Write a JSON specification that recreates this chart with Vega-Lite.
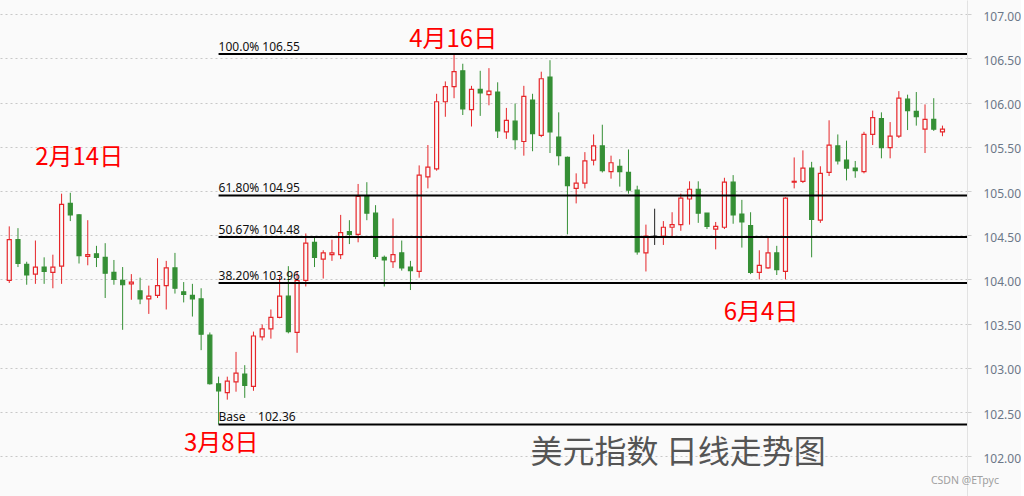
{
  "$schema": "https://vega.github.io/schema/vega-lite/v6.json",
  "width": 967,
  "height": 496,
  "padding": 0,
  "background": "#fafafa",
  "config": {"view": {"stroke": null}, "font": "Noto Sans"},
  "datasets": {
    "candles": [
      {"d":"2024-02-05","i":0,"o":103.99,"h":104.60,"l":103.96,"c":104.45},
      {"d":"2024-02-06","i":1,"o":104.45,"h":104.58,"l":104.14,"c":104.18},
      {"d":"2024-02-07","i":2,"o":104.17,"h":104.20,"l":103.94,"c":104.05},
      {"d":"2024-02-08","i":3,"o":104.06,"h":104.44,"l":103.95,"c":104.14},
      {"d":"2024-02-09","i":4,"o":104.14,"h":104.25,"l":103.95,"c":104.09},
      {"d":"2024-02-12","i":5,"o":104.08,"h":104.28,"l":103.90,"c":104.14},
      {"d":"2024-02-13","i":6,"o":104.15,"h":104.97,"l":103.95,"c":104.85},
      {"d":"2024-02-14","i":7,"o":104.86,"h":104.98,"l":104.66,"c":104.73},
      {"d":"2024-02-15","i":8,"o":104.73,"h":104.74,"l":104.18,"c":104.27},
      {"d":"2024-02-16","i":9,"o":104.26,"h":104.67,"l":104.16,"c":104.28},
      {"d":"2024-02-19","i":10,"o":104.29,"h":104.38,"l":104.14,"c":104.25},
      {"d":"2024-02-20","i":11,"o":104.25,"h":104.41,"l":103.79,"c":104.07},
      {"d":"2024-02-21","i":12,"o":104.08,"h":104.22,"l":103.94,"c":104.00},
      {"d":"2024-02-22","i":13,"o":103.99,"h":104.14,"l":103.43,"c":103.94},
      {"d":"2024-02-23","i":14,"o":103.95,"h":104.06,"l":103.77,"c":103.97},
      {"d":"2024-02-26","i":15,"o":103.87,"h":104.02,"l":103.72,"c":103.78},
      {"d":"2024-02-27","i":16,"o":103.78,"h":103.93,"l":103.61,"c":103.81},
      {"d":"2024-02-28","i":17,"o":103.82,"h":104.24,"l":103.79,"c":103.93},
      {"d":"2024-02-29","i":18,"o":103.93,"h":104.21,"l":103.66,"c":104.13},
      {"d":"2024-03-01","i":19,"o":104.13,"h":104.30,"l":103.84,"c":103.90},
      {"d":"2024-03-04","i":20,"o":103.86,"h":103.97,"l":103.74,"c":103.83},
      {"d":"2024-03-05","i":21,"o":103.82,"h":103.95,"l":103.58,"c":103.78},
      {"d":"2024-03-06","i":22,"o":103.78,"h":103.90,"l":103.20,"c":103.38},
      {"d":"2024-03-07","i":23,"o":103.37,"h":103.40,"l":102.81,"c":102.82},
      {"d":"2024-03-08","i":24,"o":102.82,"h":102.90,"l":102.36,"c":102.74},
      {"d":"2024-03-11","i":25,"o":102.72,"h":102.90,"l":102.64,"c":102.85},
      {"d":"2024-03-12","i":26,"o":102.84,"h":103.18,"l":102.73,"c":102.94},
      {"d":"2024-03-13","i":27,"o":102.93,"h":103.03,"l":102.66,"c":102.80},
      {"d":"2024-03-14","i":28,"o":102.79,"h":103.41,"l":102.74,"c":103.36},
      {"d":"2024-03-15","i":29,"o":103.35,"h":103.49,"l":103.31,"c":103.44},
      {"d":"2024-03-18","i":30,"o":103.44,"h":103.66,"l":103.33,"c":103.57},
      {"d":"2024-03-19","i":31,"o":103.57,"h":104.03,"l":103.56,"c":103.81},
      {"d":"2024-03-20","i":32,"o":103.81,"h":104.15,"l":103.39,"c":103.41},
      {"d":"2024-03-21","i":33,"o":103.40,"h":104.09,"l":103.17,"c":103.99},
      {"d":"2024-03-22","i":34,"o":103.99,"h":104.52,"l":103.92,"c":104.41},
      {"d":"2024-03-25","i":35,"o":104.42,"h":104.48,"l":104.14,"c":104.25},
      {"d":"2024-03-26","i":36,"o":104.23,"h":104.33,"l":104.01,"c":104.30},
      {"d":"2024-03-27","i":37,"o":104.28,"h":104.45,"l":104.21,"c":104.30},
      {"d":"2024-03-28","i":38,"o":104.28,"h":104.73,"l":104.23,"c":104.53},
      {"d":"2024-03-29","i":39,"o":104.54,"h":104.67,"l":104.40,"c":104.51},
      {"d":"2024-04-01","i":40,"o":104.51,"h":105.08,"l":104.42,"c":104.94},
      {"d":"2024-04-02","i":41,"o":104.94,"h":105.10,"l":104.67,"c":104.75},
      {"d":"2024-04-03","i":42,"o":104.75,"h":104.84,"l":104.23,"c":104.26},
      {"d":"2024-04-04","i":43,"o":104.25,"h":104.27,"l":103.92,"c":104.22},
      {"d":"2024-04-05","i":44,"o":104.20,"h":104.69,"l":104.13,"c":104.28},
      {"d":"2024-04-08","i":45,"o":104.30,"h":104.44,"l":104.10,"c":104.13},
      {"d":"2024-04-09","i":46,"o":104.14,"h":104.21,"l":103.88,"c":104.10},
      {"d":"2024-04-10","i":47,"o":104.09,"h":105.29,"l":104.02,"c":105.18},
      {"d":"2024-04-11","i":48,"o":105.16,"h":105.52,"l":105.03,"c":105.27},
      {"d":"2024-04-12","i":49,"o":105.25,"h":106.10,"l":105.23,"c":106.01},
      {"d":"2024-04-15","i":50,"o":106.01,"h":106.24,"l":105.84,"c":106.18},
      {"d":"2024-04-16","i":51,"o":106.18,"h":106.55,"l":106.05,"c":106.35},
      {"d":"2024-04-17","i":52,"o":106.36,"h":106.44,"l":105.86,"c":105.93},
      {"d":"2024-04-18","i":53,"o":105.92,"h":106.19,"l":105.73,"c":106.15},
      {"d":"2024-04-19","i":54,"o":106.15,"h":106.36,"l":105.85,"c":106.11},
      {"d":"2024-04-22","i":55,"o":106.09,"h":106.39,"l":105.97,"c":106.13},
      {"d":"2024-04-23","i":56,"o":106.12,"h":106.23,"l":105.60,"c":105.68},
      {"d":"2024-04-24","i":57,"o":105.67,"h":105.94,"l":105.59,"c":105.80},
      {"d":"2024-04-25","i":58,"o":105.79,"h":105.99,"l":105.47,"c":105.58},
      {"d":"2024-04-26","i":59,"o":105.56,"h":106.19,"l":105.40,"c":106.07},
      {"d":"2024-04-29","i":60,"o":106.03,"h":106.10,"l":105.45,"c":105.65},
      {"d":"2024-04-30","i":61,"o":105.63,"h":106.35,"l":105.61,"c":106.27},
      {"d":"2024-05-01","i":62,"o":106.29,"h":106.48,"l":105.43,"c":105.67},
      {"d":"2024-05-02","i":63,"o":105.61,"h":105.89,"l":105.29,"c":105.40},
      {"d":"2024-05-03","i":64,"o":105.38,"h":105.39,"l":104.51,"c":105.06},
      {"d":"2024-05-06","i":65,"o":105.03,"h":105.20,"l":104.86,"c":105.09},
      {"d":"2024-05-07","i":66,"o":105.09,"h":105.44,"l":105.03,"c":105.34},
      {"d":"2024-05-08","i":67,"o":105.35,"h":105.64,"l":105.29,"c":105.51},
      {"d":"2024-05-09","i":68,"o":105.51,"h":105.75,"l":105.21,"c":105.23},
      {"d":"2024-05-10","i":69,"o":105.22,"h":105.40,"l":105.14,"c":105.32},
      {"d":"2024-05-13","i":70,"o":105.28,"h":105.36,"l":105.05,"c":105.22},
      {"d":"2024-05-14","i":71,"o":105.21,"h":105.47,"l":104.97,"c":105.01},
      {"d":"2024-05-15","i":72,"o":105.01,"h":105.06,"l":104.28,"c":104.31},
      {"d":"2024-05-16","i":73,"o":104.30,"h":104.62,"l":104.09,"c":104.49},
      {"d":"2024-05-17","i":74,"o":104.49,"h":104.80,"l":104.39,"c":104.49},
      {"d":"2024-05-20","i":75,"o":104.49,"h":104.66,"l":104.39,"c":104.59},
      {"d":"2024-05-21","i":76,"o":104.59,"h":104.76,"l":104.49,"c":104.62},
      {"d":"2024-05-22","i":77,"o":104.62,"h":104.97,"l":104.55,"c":104.92},
      {"d":"2024-05-23","i":78,"o":104.91,"h":105.11,"l":104.62,"c":105.02},
      {"d":"2024-05-24","i":79,"o":105.02,"h":105.11,"l":104.64,"c":104.75},
      {"d":"2024-05-27","i":80,"o":104.75,"h":104.75,"l":104.57,"c":104.60},
      {"d":"2024-05-28","i":81,"o":104.57,"h":104.65,"l":104.34,"c":104.60},
      {"d":"2024-05-29","i":82,"o":104.59,"h":105.15,"l":104.57,"c":105.10},
      {"d":"2024-05-30","i":83,"o":105.10,"h":105.18,"l":104.63,"c":104.73},
      {"d":"2024-05-31","i":84,"o":104.74,"h":104.90,"l":104.36,"c":104.65},
      {"d":"2024-06-03","i":85,"o":104.61,"h":104.76,"l":104.06,"c":104.08},
      {"d":"2024-06-04","i":86,"o":104.08,"h":104.33,"l":104.00,"c":104.16},
      {"d":"2024-06-05","i":87,"o":104.13,"h":104.47,"l":104.12,"c":104.30},
      {"d":"2024-06-06","i":88,"o":104.30,"h":104.38,"l":104.05,"c":104.11},
      {"d":"2024-06-07","i":89,"o":104.09,"h":104.93,"l":104.00,"c":104.92},
      {"d":"2024-06-10","i":90,"o":105.10,"h":105.38,"l":105.03,"c":105.11},
      {"d":"2024-06-11","i":91,"o":105.11,"h":105.46,"l":105.09,"c":105.26},
      {"d":"2024-06-12","i":92,"o":105.26,"h":105.33,"l":104.25,"c":104.68},
      {"d":"2024-06-13","i":93,"o":104.67,"h":105.28,"l":104.64,"c":105.20},
      {"d":"2024-06-14","i":94,"o":105.21,"h":105.80,"l":105.17,"c":105.52},
      {"d":"2024-06-17","i":95,"o":105.51,"h":105.64,"l":105.30,"c":105.34},
      {"d":"2024-06-18","i":96,"o":105.35,"h":105.57,"l":105.12,"c":105.26},
      {"d":"2024-06-19","i":97,"o":105.26,"h":105.34,"l":105.15,"c":105.23},
      {"d":"2024-06-20","i":98,"o":105.22,"h":105.67,"l":105.20,"c":105.64},
      {"d":"2024-06-21","i":99,"o":105.64,"h":105.91,"l":105.52,"c":105.83},
      {"d":"2024-06-24","i":100,"o":105.82,"h":105.89,"l":105.37,"c":105.49},
      {"d":"2024-06-25","i":101,"o":105.49,"h":105.78,"l":105.37,"c":105.62},
      {"d":"2024-06-26","i":102,"o":105.62,"h":106.13,"l":105.60,"c":106.05},
      {"d":"2024-06-27","i":103,"o":106.04,"h":106.09,"l":105.69,"c":105.91},
      {"d":"2024-06-28","i":104,"o":105.90,"h":106.12,"l":105.74,"c":105.84},
      {"d":"2024-07-01","i":105,"o":105.70,"h":105.98,"l":105.43,"c":105.81},
      {"d":"2024-07-02","i":106,"o":105.81,"h":106.05,"l":105.68,"c":105.70},
      {"d":"2024-07-03","i":107,"o":105.67,"h":105.74,"l":105.62,"c":105.70}
    ],
    "fib": [
      {"t":"100.0% 106.55","v":106.55,"i":24},
      {"t":"61.80% 104.95","v":104.95,"i":24},
      {"t":"50.67% 104.48","v":104.48,"i":24},
      {"t":"38.20% 103.96","v":103.96,"i":24},
      {"t":"Base\u00a0\u00a0\u00a0\u00a0102.36","v":102.36,"i":24}
    ],
    "notes": [
      {"t":"2月14日","i":8.02,"v":105.373},
      {"t":"3月8日","i":24.3,"v":102.135},
      {"t":"4月16日","i":50.9,"v":106.708},
      {"t":"6月4日","i":86.2,"v":103.62}
    ],
    "title": [{"t":"美元指数 日线走势图","i":76.7,"v":102.036}],
    "mark": [{"t":"CSDN @ETpyc","i":109.58,"v":101.72}]
  },
  "layer": [
    {
      "data": {"name": "candles"},
      "mark": {"type": "rule", "strokeWidth": 1},
      "encoding": {
        "x": {"field": "i", "type": "quantitative", "axis": null, "scale": {"domain": [-0.488, 109.24], "nice": false, "zero": false}},
        "y": {"field": "l", "type": "quantitative", "scale": {"domain": [101.55, 107.161], "nice": false, "zero": false},
          "axis": {"orient": "right", "title": null, "values": [102, 102.5, 103, 103.5, 104, 104.5, 105, 105.5, 106, 106.5, 107], "format": ".2f",
            "grid": true, "gridDash": [2, 3], "gridColor": "#c8c8c8", "gridWidth": 1,
            "domainColor": "#e2e2e2", "tickColor": "#cfcfcf", "tickSize": 4, "labelPadding": 12,
            "labelColor": "#6b7788", "labelFont": "Noto Sans", "labelFontSize": 12, "labelOffset": 2}},
        "y2": {"field": "h"},
        "color": {"condition": [{"test": "datum.c > datum.o", "value": "#e6262a"}, {"test": "datum.c < datum.o", "value": "#358f35"}], "value": "#222222"}
      }
    },
    {
      "data": {"name": "candles"},
      "mark": {"type": "bar", "width": 4, "strokeWidth": 1.2},
      "encoding": {
        "x": {"field": "i", "type": "quantitative"},
        "y": {"field": "o", "type": "quantitative"},
        "y2": {"field": "c"},
        "fill": {"condition": [{"test": "datum.c > datum.o", "value": "#fafafa"}, {"test": "datum.c < datum.o", "value": "#358f35"}], "value": "#222222"},
        "stroke": {"condition": [{"test": "datum.c > datum.o", "value": "#e6262a"}, {"test": "datum.c < datum.o", "value": "#358f35"}], "value": "#222222"}
      }
    },
    {
      "data": {"name": "fib"},
      "mark": {"type": "rule", "strokeWidth": 2, "color": "#000000"},
      "encoding": {
        "x": {"field": "i", "type": "quantitative"},
        "x2": {"value": "width"},
        "y": {"field": "v", "type": "quantitative"}
      }
    },
    {
      "data": {"name": "fib"},
      "mark": {"type": "text", "align": "left", "baseline": "alphabetic", "dy": -3, "font": "Noto Sans", "fontSize": 12, "color": "#111111"},
      "encoding": {
        "x": {"field": "i", "type": "quantitative"},
        "y": {"field": "v", "type": "quantitative"},
        "text": {"field": "t"}
      }
    },
    {
      "data": {"name": "notes"},
      "mark": {"type": "text", "align": "center", "baseline": "middle", "font": "Noto Sans CJK SC", "fontSize": 24, "color": "#ff0000"},
      "encoding": {
        "x": {"field": "i", "type": "quantitative"},
        "y": {"field": "v", "type": "quantitative"},
        "text": {"field": "t"}
      }
    },
    {
      "data": {"name": "title"},
      "mark": {"type": "text", "align": "center", "baseline": "middle", "font": "Noto Sans CJK SC", "fontSize": 32, "color": "#555555"},
      "encoding": {
        "x": {"field": "i", "type": "quantitative"},
        "y": {"field": "v", "type": "quantitative"},
        "text": {"field": "t"}
      }
    },
    {
      "data": {"name": "mark"},
      "mark": {"type": "text", "align": "center", "baseline": "middle", "font": "Noto Sans", "fontSize": 10.5, "color": "#a0a0a0"},
      "encoding": {
        "x": {"field": "i", "type": "quantitative"},
        "y": {"field": "v", "type": "quantitative"},
        "text": {"field": "t"}
      }
    }
  ]
}
